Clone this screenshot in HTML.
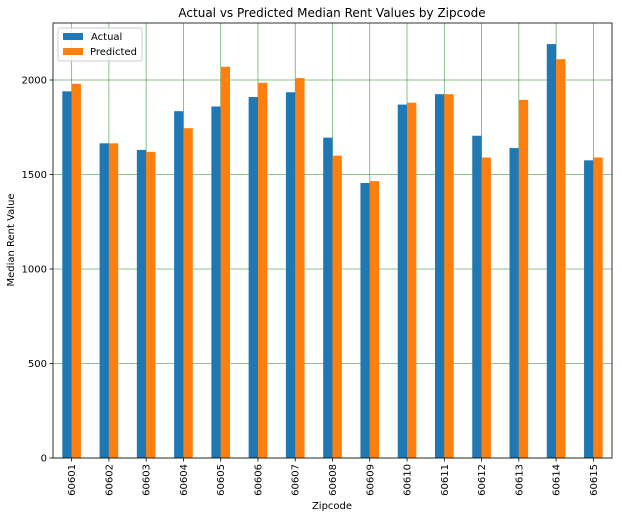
<!DOCTYPE html>
<html><head><meta charset="utf-8"><style>
body{margin:0;background:#fff;}
svg text{font-family:"DejaVu Sans","Liberation Sans",sans-serif;fill:#000;}
</style></head><body>
<svg id="chart" width="622" height="518" xmlns="http://www.w3.org/2000/svg">
<rect width="622" height="518" fill="#fff"/>
<text x="332" y="17" font-size="12" text-anchor="middle">Actual vs Predicted Median Rent Values by Zipcode</text>
<g id="grid"></g><g id="bars"></g><g id="axes"></g>
<text x="332" y="509" font-size="10" text-anchor="middle">Zipcode</text>
<text transform="translate(14,240) rotate(-90)" font-size="10" text-anchor="middle">Median Rent Value</text>
<g>
<rect x="58" y="28" width="84" height="33" fill="#fff" fill-opacity="0.8" stroke="#ccc" rx="2"/>
<rect x="63" y="33" width="20" height="7" fill="#1f77b4"/>
<text x="91" y="40" font-size="10">Actual</text>
<rect x="63" y="48" width="20" height="7" fill="#ff7f0e"/>
<text x="90" y="55" font-size="10">Predicted</text>
</g>
</svg>
<script>
const categories=["60601","60602","60603","60604","60605","60606","60607","60608","60609","60610","60611","60612","60613","60614","60615"];
const actual=[1940,1665,1630,1835,1860,1910,1935,1695,1455,1870,1925,1705,1640,2190,1575];
const predicted=[1980,1665,1620,1745,2070,1985,2010,1600,1465,1880,1925,1590,1895,2110,1590];
const yTicks=[0,500,1000,1500,2000];
const L=53,R=612,T=23,B=458;
const ns="http://www.w3.org/2000/svg";
const y=v=>B-v*(80-B)/-2000;
const step=(R-L)/categories.length;
const xc=i=>L+step*(i+0.5);
const bw=step*0.25;
function mk(tag,attrs,parent){const e=document.createElementNS(ns,tag);for(const k in attrs)e.setAttribute(k,attrs[k]);parent.appendChild(e);return e;}
const grid=document.getElementById('grid'),bars=document.getElementById('bars'),axes=document.getElementById('axes');
yTicks.forEach(t=>{
  const g=mk('line',{x1:L,x2:R,y1:y(t),y2:y(t),stroke:'#008000','stroke-opacity':0.6,'stroke-width':0.8},grid);
  
  
  mk('line',{x1:L-3.5,x2:L,y1:y(t),y2:y(t),stroke:'#000','stroke-width':0.8},axes);
  const tx=mk('text',{x:L-6,y:y(t)+3.5,'font-size':10,'text-anchor':'end'},axes);
  tx.textContent=t;
  
  
});
categories.forEach((c,i)=>{
  const g=mk('line',{x1:xc(i),x2:xc(i),y1:T,y2:B,stroke:'#008000','stroke-opacity':0.6,'stroke-width':0.8},grid);
  
  
  const a=mk('rect',{x:xc(i)-bw,y:y(actual[i]),width:bw,height:B-y(actual[i]),fill:'#1f77b4'},bars);
  
  
  const p=mk('rect',{x:xc(i),y:y(predicted[i]),width:bw,height:B-y(predicted[i]),fill:'#ff7f0e'},bars);
  
  
  mk('line',{x1:xc(i),x2:xc(i),y1:B,y2:B+3.5,stroke:'#000','stroke-width':0.8},axes);
  const tx=mk('text',{transform:`translate(${xc(i)+3.5},${B+6}) rotate(-90)`,'font-size':10,'text-anchor':'end'},axes);
  tx.textContent=c;
  
  
});
const fr=mk('rect',{x:L,y:T,width:R-L,height:B-T,fill:'none',stroke:'#000','stroke-width':0.8},axes);


</script>
</body></html>
